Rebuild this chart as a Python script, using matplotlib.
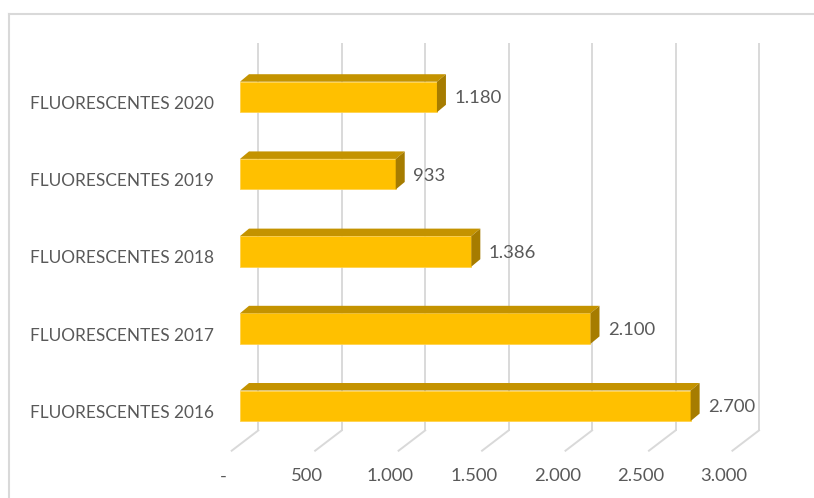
import matplotlib.pyplot as plt
from matplotlib.patches import Polygon
from matplotlib.lines import Line2D

categories = ['FLUORESCENTES 2016', 'FLUORESCENTES 2017', 'FLUORESCENTES 2018',
              'FLUORESCENTES 2019', 'FLUORESCENTES 2020']
values = [2700, 2100, 1386, 933, 1180]
value_labels = ['2.700', '2.100', '1.386', '933', '1.180']
x_ticks = [0, 500, 1000, 1500, 2000, 2500, 3000]
x_tick_labels = ['-', '500', '1.000', '1.500', '2.000', '2.500', '3.000']

W, H = 814, 498
fig = plt.figure(figsize=(W / 100, H / 100), dpi=100)
plt.rcParams['font.family'] = ['Lato', 'DejaVu Sans']

# plane of the bar fronts, in pixels
x0_px, x1_px = 240, 740.7
ytop_px, ybot_px = 58.4, 444.4
ax = fig.add_axes([x0_px / W, 1 - ybot_px / H, (x1_px - x0_px) / W, (ybot_px - ytop_px) / H])
ax.set_xlim(0, 3000)
ax.set_ylim(-0.5, 4.5)
ax.axis('off')

ux = 3000 / (x1_px - x0_px)   # data units per pixel
uy = 5 / (ybot_px - ytop_px)

grid_c = '#D9D9D9'
text_c = '#595959'
fs = 13.3

# back wall gridlines and floor lines
for v, lab in zip(x_ticks, x_tick_labels):
    bx = v + 18.3 * ux
    by = -0.5 + 14 * uy
    ax.plot([bx, bx], [by, 4.5 + 14.4 * uy], color=grid_c, lw=1.4, clip_on=False, zorder=1)
    ax.plot([bx, v - 8.3 * ux], [by, -0.5 - 6.3 * uy], color=grid_c, lw=1.4, clip_on=False, zorder=1)
    ax.text(v - 16.5 * ux, -0.5 - 32 * uy, lab, ha='center', va='center',
            color=text_c, fontsize=fs, clip_on=False)

# bars with a small 3D depth
h = 0.396
dx, dy = 9 * ux, 7.5 * uy
ypos = list(range(len(values)))
ax.barh(ypos, values, height=h, color='#FFC000', edgecolor='#FFD34D', lw=0.6, zorder=3)
for y, v, lab, cat in zip(ypos, values, value_labels, categories):
    top = [(0, y + h / 2), (v, y + h / 2), (v + dx, y + h / 2 + dy), (dx, y + h / 2 + dy)]
    side = [(v, y - h / 2), (v + dx, y - h / 2 + dy), (v + dx, y + h / 2 + dy), (v, y + h / 2)]
    ax.add_patch(Polygon(top, closed=True, facecolor='#C49300', edgecolor='none', zorder=3, clip_on=False))
    ax.add_patch(Polygon(side, closed=True, facecolor='#A67C00', edgecolor='none', zorder=3, clip_on=False))
    ax.text(v + 17.7 * ux, y - 1.5 * uy, lab, ha='left', va='center',
            color=text_c, fontsize=fs, clip_on=False)
    ax.text(-26 * ux, y - 7 * uy, cat, ha='right', va='center',
            color=text_c, fontsize=12.4, clip_on=False)

# chart area border
fig.add_artist(Line2D([9 / W, 1], [1 - 14 / H, 1 - 14 / H], color=grid_c, lw=1.5))
fig.add_artist(Line2D([9 / W, 9 / W], [0, 1 - 14 / H], color=grid_c, lw=1.5))

fig.savefig('out.png', dpi=100)
